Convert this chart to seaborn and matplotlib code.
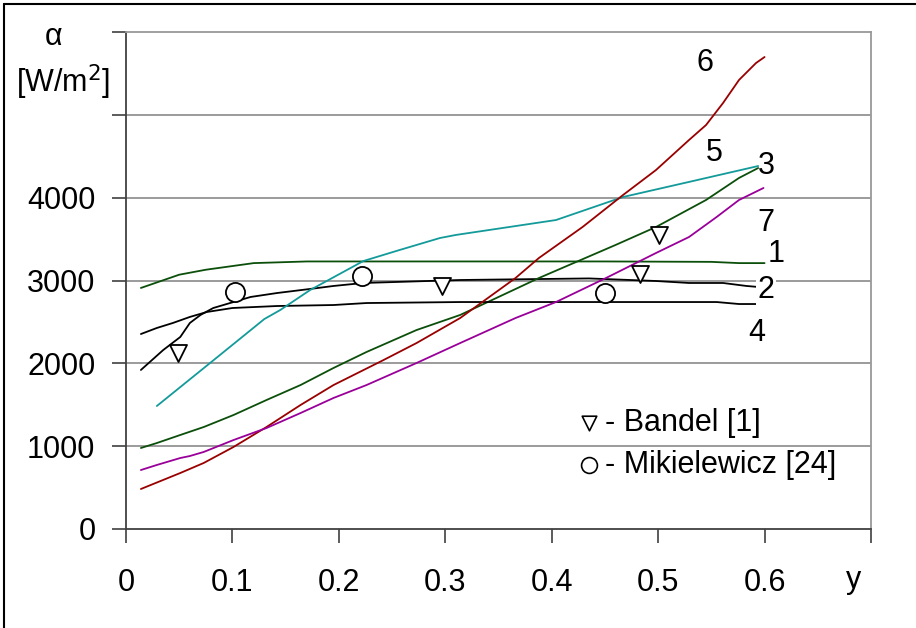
import numpy as np
import pandas as pd
import matplotlib
matplotlib.use("Agg")
import matplotlib.pyplot as plt
import seaborn as sns

# ---- data ----
x1 = [0.014, 0.05, 0.075, 0.12, 0.17, 0.3, 0.45, 0.55, 0.576, 0.60]
y1 = [2910, 3070, 3130, 3210, 3230, 3230, 3230, 3225, 3210, 3210]

x2 = [0.014, 0.035, 0.051, 0.06, 0.07, 0.082, 0.117, 0.142, 0.173, 0.195, 0.223, 0.314, 0.435, 0.498, 0.529, 0.561, 0.583, 0.594]
y2 = [1920, 2161, 2318, 2487, 2584, 2668, 2801, 2849, 2898, 2934, 2970, 3006, 3025, 2994, 2970, 2970, 2934, 2922]

x3 = [0.014, 0.029, 0.051, 0.073, 0.101, 0.132, 0.164, 0.195, 0.226, 0.273, 0.314, 0.388, 0.46, 0.498, 0.545, 0.576, 0.594]
y3 = [978, 1038, 1135, 1231, 1376, 1557, 1738, 1944, 2137, 2402, 2584, 3030, 3429, 3646, 3972, 4238, 4358]

x4 = [0.014, 0.029, 0.044, 0.06, 0.076, 0.10, 0.142, 0.195, 0.226, 0.314, 0.498, 0.555, 0.576, 0.594]
y4 = [2354, 2427, 2487, 2560, 2620, 2668, 2692, 2704, 2728, 2740, 2740, 2740, 2716, 2716]

x5 = [0.029, 0.079, 0.13, 0.145, 0.173, 0.223, 0.257, 0.295, 0.31, 0.404, 0.467, 0.529, 0.594]
y5 = [1485, 2004, 2535, 2644, 2885, 3235, 3368, 3513, 3550, 3730, 4008, 4190, 4382]

x6 = [0.014, 0.051, 0.073, 0.101, 0.132, 0.164, 0.195, 0.242, 0.273, 0.314, 0.366, 0.388, 0.429, 0.467, 0.498, 0.529, 0.545, 0.561, 0.576, 0.592, 0.60]
y6 = [483, 676, 797, 990, 1231, 1497, 1738, 2040, 2245, 2547, 3030, 3272, 3646, 4032, 4334, 4696, 4877, 5143, 5421, 5626, 5698]

x7 = [0.014, 0.029, 0.051, 0.06, 0.073, 0.101, 0.132, 0.164, 0.195, 0.226, 0.273, 0.314, 0.366, 0.404, 0.451, 0.498, 0.529, 0.555, 0.576, 0.599]
y7 = [712, 773, 857, 881, 930, 1074, 1219, 1400, 1582, 1738, 2004, 2245, 2547, 2740, 3030, 3332, 3525, 3767, 3972, 4117]

bandel_x = [0.049, 0.297, 0.483, 0.501]
bandel_y = [2125, 2934, 3078, 3550]
mik_x = [0.102, 0.222, 0.45]
mik_y = [2861, 3054, 2849]

curve_names = ["1", "2", "3", "4", "5", "6", "7"]
curve_label_x = [0.611, 0.601, 0.602, 0.593, 0.553, 0.544, 0.601]
curve_label_y = [3320, 2880, 4380, 2370, 4540, 5620, 3700]

x_ticks = [0, 0.1, 0.2, 0.3, 0.4, 0.5, 0.6, 0.7]
x_ticklabels = ["0", "0.1", "0.2", "0.3", "0.4", "0.5", "0.6", ""]
y_ticks = [0, 1000, 2000, 3000, 4000, 5000, 6000]
y_ticklabels = ["0", "1000", "2000", "3000", "4000", "", ""]

colors = {"1": "#0b4f0b", "2": "#000000", "3": "#0b4f0b", "4": "#000000",
          "5": "#139a9a", "6": "#990000", "7": "#990099"}

xs = [x1, x2, x3, x4, x5, x6, x7]
ys = [y1, y2, y3, y4, y5, y6, y7]
df = pd.concat([pd.DataFrame({"y": x, "alpha": v, "curve": n})
                for x, v, n in zip(xs, ys, curve_names)], ignore_index=True)

sns.set_theme(style="white")
plt.rcParams["font.family"] = ["Liberation Sans", "DejaVu Sans"]
plt.rcParams["text.color"] = "black"

fig = plt.figure(figsize=(9.16, 6.28), dpi=100)
ax = fig.add_axes([126 / 916, 1 - 529 / 628, (871 - 126) / 916, (529 - 32) / 628])

for yv in [1000, 2000, 3000, 4000, 5000]:
    ax.axhline(yv, color="#808080", lw=1.1, zorder=0)

sns.lineplot(data=df, x="y", y="alpha", hue="curve", palette=colors, units="curve",
             estimator=None, sort=False, lw=1.3, legend=False, ax=ax, zorder=3)

sns.scatterplot(x=bandel_x, y=bandel_y, marker="v", s=150, facecolor="white",
                edgecolor="black", linewidth=1.3, ax=ax, zorder=4)
sns.scatterplot(x=mik_x, y=mik_y, marker="o", s=190, facecolor="white",
                edgecolor="black", linewidth=1.3, ax=ax, zorder=4)

for n, lx, ly in zip(curve_names, curve_label_x, curve_label_y):
    ax.text(lx, ly, n, fontsize=22, ha="center", va="center", zorder=5, color="black",
            bbox=dict(facecolor="white", edgecolor="none", pad=1) if n in ("1", "2") else None)

# legend-like annotations
ax.scatter([0.435], [1280], marker="v", s=110, facecolor="white", edgecolor="black", lw=1.2, zorder=5)
ax.text(0.45, 1280, "- Bandel [1]", fontsize=22, va="center", ha="left", color="black")
ax.scatter([0.435], [773], marker="o", s=130, facecolor="white", edgecolor="black", lw=1.2, zorder=5)
ax.text(0.45, 773, "- Mikielewicz [24]", fontsize=22, va="center", ha="left", color="black")

ax.set_xlim(0, 0.7)
ax.set_ylim(0, 6000)
ax.set_xticks(x_ticks)
ax.set_xticklabels(x_ticklabels)
ax.set_yticks(y_ticks)
ax.set_yticklabels(y_ticklabels)
ax.set_xlabel("")
ax.set_ylabel("")
ax.tick_params(axis="both", direction="out", length=10, width=1.2, color="#404040",
               labelsize=22, labelcolor="black")
ax.tick_params(axis="x", pad=18, bottom=True)
ax.tick_params(axis="y", pad=12, left=True)

for side in ["left", "bottom"]:
    ax.spines[side].set_color("#404040")
    ax.spines[side].set_linewidth(1.3)
for side in ["top", "right"]:
    ax.spines[side].set_color("#999999")
    ax.spines[side].set_linewidth(1.3)

fig.text(854 / 916, 1 - 580 / 628, "y", fontsize=22, ha="center", va="center", color="black")
fig.text(54 / 916, 1 - 37 / 628, "α", fontsize=22, ha="center", va="center", color="black")
fig.text(63 / 916, 1 - 82 / 628, "[W/m$^2$]", fontsize=22, ha="center", va="center", color="black")

# figure frame (top and left edges visible)
fig.add_artist(plt.Line2D([4 / 916, 1.0], [1 - 3.5 / 628, 1 - 3.5 / 628], color="black", lw=1.5,
                          transform=fig.transFigure))
fig.add_artist(plt.Line2D([4 / 916, 4 / 916], [0.0, 1 - 3.5 / 628], color="black", lw=1.5,
                          transform=fig.transFigure))

fig.savefig("out.png", dpi=100)
